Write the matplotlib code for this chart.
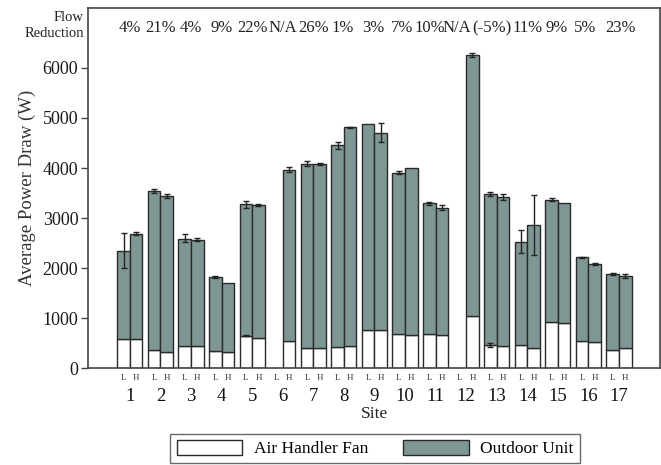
import matplotlib
matplotlib.use("Agg")
import matplotlib.pyplot as plt
import numpy as np
from matplotlib.patches import Patch

plt.rcParams['font.family'] = ['Liberation Serif', 'DejaVu Serif']

sites = [str(i) for i in range(1, 18)]
flow_reduction = ["4%", "21%", "4%", "9%", "22%", "N/A", "26%", "1%", "3%",
                  "7%", "10%", "N/A", "(-5%)", "11%", "9%", "5%", "23%"]
# horizontal anchor (in site units) of each flow-reduction label
flow_pos = [1, 2, 3, 4, 5, 6, 7, 7.95, 8.95, 9.9, 10.8, 11.7, 12.85, 14, 14.95, 15.9, 17.05]

# Low-flow (L) and High-flow (H) totals and fan power (W); None = no bar
total_L = [2350, 3540, 2590, 1825, 3270, None, 4080, 4450, 4880, 3900, 3290, None, 3480, 2520, 3360, 2215, 1880]
total_H = [2680, 3440, 2560, 1710, 3250, 3960, 4075, 4810, 4700, 4005, 3205, 6260, 3415, 2860, 3305, 2080, 1840]
err_L   = [350, 40, 80, 15, 70, 0, 50, 70, 0, 30, 30, 0, 40, 230, 30, 10, 15]
err_H   = [30, 40, 30, 0, 20, 50, 20, 10, 190, 0, 50, 40, 60, 600, 0, 20, 40]
fan_L   = [590, 370, 440, 340, 650, None, 410, 430, 770, 690, 675, None, 460, 460, 930, 550, 365]
fan_H   = [580, 330, 435, 320, 600, 545, 395, 445, 765, 665, 665, 1040, 440, 400, 910, 530, 395]
fan_err_L = [0, 0, 0, 0, 15, 0, 0, 0, 0, 0, 0, 0, 40, 0, 0, 0, 0]

outdoor_color = '#7f9794'
edge = '#2a2a2a'
w = 0.41

fig = plt.figure(figsize=(6.61, 4.65), dpi=100)
ax = fig.add_axes([88/661, 97/465, 572/661, 360/465])

x = np.arange(1, 18)
for i in range(17):
    for tot, fan, e, fe, off in ((total_L[i], fan_L[i], err_L[i], fan_err_L[i], -w/2),
                                 (total_H[i], fan_H[i], err_H[i], 0, w/2)):
        if tot is None:
            continue
        xp = x[i] + off
        ax.bar(xp, fan, width=w, color='white', edgecolor=edge, linewidth=1.0, zorder=2)
        ax.bar(xp, tot - fan, bottom=fan, width=w, color=outdoor_color,
               edgecolor=edge, linewidth=1.0, zorder=2)
        if e > 0:
            ax.errorbar(xp, tot, yerr=e, fmt='none', ecolor='#222222',
                        elinewidth=1.0, capsize=2.5, capthick=1.0, zorder=3)
        if fe > 0:
            ax.errorbar(xp, fan, yerr=fe, fmt='none', ecolor='#222222',
                        elinewidth=1.0, capsize=2.5, capthick=1.0, zorder=3)

ax.set_xlim(-0.37, 18.34)
ax.set_ylim(0, 7200)
ax.set_yticks([0, 1000, 2000, 3000, 4000, 5000, 6000])
ax.tick_params(axis='y', direction='out', length=5, width=1, labelsize=13,
               pad=2, labelcolor='#1a1a1a', color='#444444')
ax.set_xticks([])
for s in ax.spines.values():
    s.set_color('#444444')
    s.set_linewidth(1.2)

ax.set_ylabel('Average Power Draw (W)', fontsize=13.5, color='#333333', labelpad=5)

# Flow reduction labels
for p, lab in zip(flow_pos, flow_reduction):
    ax.text(p, 6800, lab, ha='center', va='center', fontsize=12, color='#222222')
ax.text(-0.5, 6850, 'Flow\nReduction', ha='right', va='center', fontsize=10.5,
        color='#222222', linespacing=1.25, clip_on=False)

# L/H labels and site numbers
for i in range(17):
    ax.text(x[i] - w/2, -200, 'L', ha='center', va='center', fontsize=6.5, color='#333333')
    ax.text(x[i] + w/2, -200, 'H', ha='center', va='center', fontsize=6.5, color='#333333')
    ax.text(x[i], -560, sites[i], ha='center', va='center', fontsize=13.5, color='#111111')
ax.text(9, -920, 'Site', ha='center', va='center', fontsize=12.5, color='#222222')

handles = [Patch(facecolor='white', edgecolor=edge, label='Air Handler Fan'),
           Patch(facecolor=outdoor_color, edgecolor=edge, label='Outdoor Unit')]
leg = fig.legend(handles=handles, loc='center', bbox_to_anchor=(375/661, 1 - 448.5/465),
                 ncol=2, fontsize=12.5, frameon=True, fancybox=False, edgecolor='#444444',
                 handlelength=3.8, handleheight=1.0, columnspacing=2.0, handletextpad=0.65,
                 borderpad=0.35)
leg.get_frame().set_linewidth(1.0)

fig.savefig('out.png', dpi=100)
